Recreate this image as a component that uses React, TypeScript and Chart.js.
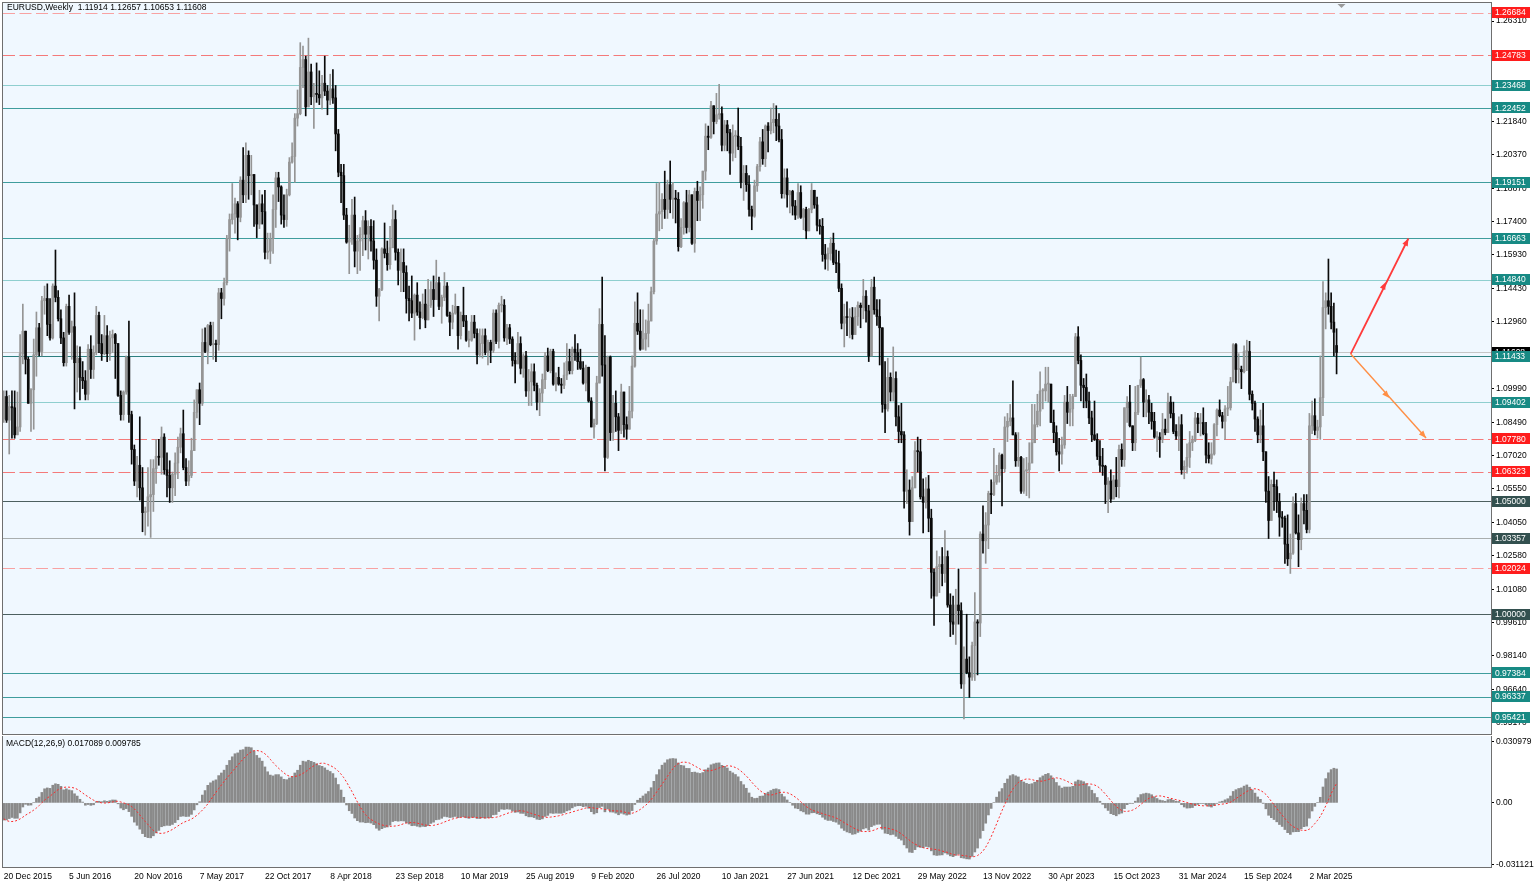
import React, { useEffect, useRef } from "react";
import { Chart, registerables } from "chart.js";

Chart.register(...registerables);

const FONT = "'Liberation Sans', Arial, sans-serif";

const SYMBOL_TEXT = "EURUSD,Weekly  1.11914 1.12657 1.10653 1.11608";
const MACD_TEXT = "MACD(12,26,9) 0.017089 0.009785";
const lastOpen = 1.11914;
const currentPrice = 1.11608;

// weekly closes of 2015 before the first visible bar (used only to warm up the MACD)
const warmupCloses = [
  1.1840, 1.1570, 1.1205, 1.1290, 1.1315, 1.1390, 1.1380, 1.1195, 1.0845, 1.0495, 1.0820, 1.0890, 1.0970,
  1.0600, 1.0805, 1.0875, 1.1200, 1.1200, 1.1445, 1.1015, 1.0985, 1.1110, 1.1265, 1.1350, 1.1165, 1.1105,
  1.1165, 1.0825, 1.0985, 1.0985, 1.0965, 1.1105, 1.1385, 1.1185, 1.1145, 1.1335, 1.1295, 1.1195, 1.1210,
  1.1355, 1.1350, 1.1015, 1.1010, 1.0740, 1.0770, 1.0645, 1.0590, 1.0880, 1.0990, 1.0865,
];

// weekly bars, first week = 20 Dec 2015, last week = 11 May 2025
const closes = [
  // 2015
  1.0965, 1.0860,
  // 2016
  1.0920, 1.0915, 1.0795, 1.0830, 1.1155, 1.1255, 1.1130, 1.0935, 1.0995, 1.1150, 1.1270, 1.1165, 1.1390,
  1.1400, 1.1285, 1.1225, 1.1455, 1.1405, 1.1310, 1.1225, 1.1115, 1.1365, 1.1250, 1.1275, 1.1115, 1.1135,
  1.1050, 1.1035, 1.0975, 1.1175, 1.1085, 1.1160, 1.1325, 1.1200, 1.1155, 1.1235, 1.1155, 1.1225, 1.1240,
  1.1200, 1.0970, 1.0885, 1.0985, 1.1140, 1.0885, 1.0730, 1.0590, 1.0660, 1.0560, 1.0450, 1.0455, 1.0520,
  // 2017
  1.0530, 1.0645, 1.0700, 1.0695, 1.0785, 1.0640, 1.0615, 1.0560, 1.0620, 1.0670, 1.0740, 1.0800, 1.0650,
  1.0590, 1.0615, 1.0725, 1.0895, 1.0995, 1.0935, 1.1205, 1.1165, 1.1280, 1.1195, 1.1200, 1.1195, 1.1425,
  1.1400, 1.1470, 1.1665, 1.1750, 1.1775, 1.1820, 1.1760, 1.1925, 1.1860, 1.2035, 1.1945, 1.1950, 1.1815,
  1.1730, 1.1820, 1.1785, 1.1605, 1.1610, 1.1665, 1.1795, 1.1935, 1.1895, 1.1770, 1.1750, 1.1860, 1.2005, 1.2030,
  // 2018
  1.2200, 1.2220, 1.2425, 1.2460, 1.2250, 1.2405, 1.2295, 1.2310, 1.2305, 1.2290, 1.2355, 1.2320,
  1.2280, 1.2330, 1.2290, 1.2130, 1.1960, 1.1945, 1.1770, 1.1650, 1.1660, 1.1770, 1.1610, 1.1655, 1.1685,
  1.1745, 1.1685, 1.1720, 1.1655, 1.1570, 1.1410, 1.1440, 1.1620, 1.1600, 1.1550, 1.1625, 1.1750, 1.1605, 1.1525,
  1.1560, 1.1515, 1.1400, 1.1390, 1.1335, 1.1415, 1.1340, 1.1315, 1.1375, 1.1305, 1.1370, 1.1440, 1.1395,
  // 2019
  1.1470, 1.1365, 1.1405, 1.1455, 1.1325, 1.1295, 1.1335, 1.1365, 1.1235, 1.1325, 1.1300, 1.1215, 1.1215,
  1.1295, 1.1245, 1.1150, 1.1200, 1.1235, 1.1160, 1.1205, 1.1170, 1.1335, 1.1210, 1.1370, 1.1370, 1.1225,
  1.1270, 1.1220, 1.1125, 1.1110, 1.1200, 1.1090, 1.1145, 1.0990, 1.1030, 1.1075, 1.1015, 1.0940, 1.0980,
  1.1040, 1.1145, 1.1080, 1.1165, 1.1020, 1.1050, 1.1020, 1.1015, 1.1060, 1.1120, 1.1080, 1.1175, 1.1160,
  // 2020
  1.1120, 1.1090, 1.1025, 1.1095, 1.0945, 1.0830, 1.0845, 1.1025, 1.1285, 1.1105, 1.0695, 1.1140, 1.0805,
  1.0935, 1.0875, 1.0815, 1.0985, 1.0840, 1.0820, 1.0900, 1.1100, 1.1290, 1.1255, 1.1175, 1.1220, 1.1245,
  1.1300, 1.1430, 1.1655, 1.1775, 1.1785, 1.1840, 1.1795, 1.1905, 1.1840, 1.1845, 1.1840, 1.1630, 1.1715,
  1.1825, 1.1715, 1.1860, 1.1645, 1.1875, 1.1835, 1.1860, 1.1965, 1.2120, 1.2115, 1.2255, 1.2185, 1.2215,
  // 2021
  1.2220, 1.2080, 1.2170, 1.2135, 1.2045, 1.2120, 1.2120, 1.2075, 1.1915, 1.1955, 1.1905, 1.1795, 1.1765,
  1.1900, 1.1985, 1.2095, 1.2020, 1.2165, 1.2145, 1.2180, 1.2195, 1.2165, 1.2105, 1.1865, 1.1935, 1.1860,
  1.1875, 1.1810, 1.1770, 1.1870, 1.1760, 1.1795, 1.1700, 1.1795, 1.1880, 1.1815, 1.1725, 1.1720, 1.1595,
  1.1575, 1.1600, 1.1645, 1.1560, 1.1555, 1.1445, 1.1290, 1.1320, 1.1315, 1.1315, 1.1240, 1.1320, 1.1370,
  // 2022
  1.1360, 1.1410, 1.1345, 1.1145, 1.1450, 1.1350, 1.1320, 1.1270, 1.0930, 1.0910, 1.1050, 1.0985, 1.1045,
  1.0875, 1.0810, 1.0795, 1.0545, 1.0550, 1.0410, 1.0560, 1.0725, 1.0720, 1.0520, 1.0495, 1.0555, 1.0425,
  1.0185, 1.0080, 1.0210, 1.0220, 1.0180, 1.0255, 1.0040, 0.9965, 0.9955, 1.0040, 1.0015, 0.9690, 0.9800,
  0.9740, 0.9720, 0.9860, 0.9965, 0.9960, 1.0355, 1.0325, 1.0395, 1.0535, 1.0530, 1.0585, 1.0615, 1.0705,
  // 2023
  1.0645, 1.0830, 1.0855, 1.0870, 1.0795, 1.0680, 1.0695, 1.0545, 1.0635, 1.0640, 1.0670, 1.0760, 1.0840,
  1.0900, 1.0990, 1.0990, 1.1020, 1.1020, 1.0850, 1.0805, 1.0720, 1.0710, 1.0750, 1.0940, 1.0895, 1.0910,
  1.0965, 1.1230, 1.1125, 1.1015, 1.1005, 1.0945, 1.0870, 1.0795, 1.0775, 1.0700, 1.0660, 1.0655, 1.0575,
  1.0590, 1.0510, 1.0595, 1.0565, 1.0730, 1.0685, 1.0915, 1.0940, 1.0835, 1.0760, 1.0895, 1.1015, 1.1040, 1.0940,
  // 2024
  1.0950, 1.0895, 1.0855, 1.0785, 1.0785, 1.0775, 1.0820, 1.0805, 1.0940, 1.0890, 1.0810, 1.0790, 1.0840,
  1.0640, 1.0655, 1.0695, 1.0760, 1.0770, 1.0870, 1.0845, 1.0850, 1.0800, 1.0705, 1.0690, 1.0710, 1.0840,
  1.0905, 1.0880, 1.0855, 1.0910, 1.0915, 1.1030, 1.1195, 1.1085, 1.1085, 1.1075, 1.1165, 1.1165, 1.0975,
  1.0935, 1.0865, 1.0795, 1.0835, 1.0720, 1.0545, 1.0415, 1.0575, 1.0565, 1.0500, 1.0430, 1.0425, 1.0310,
  // 2025
  1.0245, 1.0270, 1.0490, 1.0360, 1.0330, 1.0490, 1.0460, 1.0375, 1.0835, 1.0880, 1.0815, 1.0830, 1.0960,
  1.1360, 1.1390, 1.1365, 1.1295, 1.1250, 1.11608,
];

const highs = [
  // 2015
  1.0990, 1.0990,
  // 2016
  1.0970, 1.0990, 1.0990, 1.0985, 1.1240, 1.1375, 1.1250, 1.1140, 1.1000, 1.1220, 1.1340, 1.1290, 1.1410,
  1.1455, 1.1465, 1.1400, 1.1465, 1.1615, 1.1435, 1.1350, 1.1250, 1.1375, 1.1415, 1.1300, 1.1425, 1.1190,
  1.1185, 1.1120, 1.1080, 1.1195, 1.1235, 1.1190, 1.1365, 1.1340, 1.1240, 1.1325, 1.1280, 1.1255, 1.1260,
  1.1245, 1.1145, 1.0990, 1.0990, 1.1145, 1.1300, 1.0900, 1.0750, 1.0700, 1.0875, 1.0650, 1.0475, 1.0650,
  // 2017
  1.0685, 1.0685, 1.0775, 1.0775, 1.0830, 1.0800, 1.0715, 1.0680, 1.0630, 1.0715, 1.0785, 1.0825, 1.0905,
  1.0690, 1.0680, 1.0780, 1.0950, 1.0995, 1.1025, 1.1265, 1.1270, 1.1285, 1.1295, 1.1295, 1.1215, 1.1445,
  1.1445, 1.1490, 1.1680, 1.1775, 1.1910, 1.1845, 1.1830, 1.1940, 1.2070, 1.2090, 1.2055, 1.2035, 1.1935,
  1.1815, 1.1880, 1.1860, 1.1880, 1.1690, 1.1690, 1.1860, 1.1960, 1.1960, 1.1900, 1.1860, 1.1885, 1.2025, 1.2090,
  // 2018
  1.2220, 1.2325, 1.2535, 1.2520, 1.2475, 1.2555, 1.2440, 1.2355, 1.2445, 1.2410, 1.2390, 1.2475,
  1.2345, 1.2395, 1.2415, 1.2345, 1.2150, 1.1995, 1.1995, 1.1800, 1.1725, 1.1840, 1.1850, 1.1680, 1.1715,
  1.1765, 1.1790, 1.1745, 1.1750, 1.1745, 1.1620, 1.1445, 1.1625, 1.1735, 1.1655, 1.1720, 1.1815, 1.1790, 1.1620,
  1.1620, 1.1620, 1.1545, 1.1455, 1.1500, 1.1420, 1.1470, 1.1385, 1.1420, 1.1440, 1.1485, 1.1475, 1.1500,
  // 2019
  1.1570, 1.1495, 1.1415, 1.1515, 1.1470, 1.1340, 1.1370, 1.1420, 1.1355, 1.1340, 1.1450, 1.1325, 1.1255,
  1.1325, 1.1325, 1.1265, 1.1265, 1.1265, 1.1265, 1.1215, 1.1215, 1.1350, 1.1350, 1.1380, 1.1410, 1.1395,
  1.1285, 1.1285, 1.1230, 1.1160, 1.1250, 1.1230, 1.1155, 1.1165, 1.1085, 1.1110, 1.1110, 1.1025, 1.1000,
  1.1065, 1.1160, 1.1180, 1.1175, 1.1175, 1.1070, 1.1095, 1.1045, 1.1115, 1.1200, 1.1175, 1.1185, 1.1240,
  // 2020
  1.1200, 1.1175, 1.1120, 1.1105, 1.1095, 1.0960, 1.0865, 1.1055, 1.1355, 1.1495, 1.1235, 1.1145, 1.1145,
  1.0970, 1.0990, 1.0890, 1.1020, 1.0980, 1.0875, 1.1010, 1.1145, 1.1385, 1.1425, 1.1350, 1.1350, 1.1305,
  1.1375, 1.1450, 1.1665, 1.1910, 1.1915, 1.1865, 1.1965, 1.1925, 1.2010, 1.1915, 1.1880, 1.1870, 1.1755,
  1.1830, 1.1880, 1.1880, 1.1860, 1.1890, 1.1920, 1.1895, 1.1965, 1.2175, 1.2165, 1.2275, 1.2255, 1.2310,
  // 2021
  1.2350, 1.2250, 1.2190, 1.2190, 1.2150, 1.2170, 1.2145, 1.2245, 1.2115, 1.1990, 1.1990, 1.1945, 1.1810,
  1.1925, 1.1995, 1.2115, 1.2150, 1.2170, 1.2180, 1.2245, 1.2265, 1.2255, 1.2220, 1.2150, 1.1975, 1.1975,
  1.1880, 1.1880, 1.1835, 1.1910, 1.1900, 1.1800, 1.1805, 1.1800, 1.1910, 1.1880, 1.1850, 1.1750, 1.1755,
  1.1640, 1.1625, 1.1670, 1.1690, 1.1615, 1.1610, 1.1465, 1.1375, 1.1385, 1.1355, 1.1360, 1.1360, 1.1385,
  // 2022
  1.1380, 1.1485, 1.1435, 1.1370, 1.1485, 1.1495, 1.1395, 1.1395, 1.1240, 1.1120, 1.1135, 1.1070, 1.1185,
  1.1075, 1.0925, 1.0935, 1.0810, 1.0640, 1.0595, 1.0610, 1.0765, 1.0785, 1.0775, 1.0600, 1.0605, 1.0615,
  1.0465, 1.0200, 1.0280, 1.0255, 1.0295, 1.0370, 1.0280, 1.0090, 1.0080, 1.0110, 1.0200, 1.0050, 0.9855,
  0.9999, 0.9810, 0.9875, 1.0095, 0.9975, 1.0365, 1.0480, 1.0450, 1.0545, 1.0595, 1.0735, 1.0660, 1.0715,
  // 2023
  1.0710, 1.0875, 1.0890, 1.0930, 1.1035, 1.0805, 1.0805, 1.0700, 1.0690, 1.0695, 1.0760, 1.0930, 1.0930,
  1.0975, 1.1075, 1.1000, 1.1095, 1.1095, 1.1005, 1.0905, 1.0835, 1.0780, 1.0785, 1.0970, 1.1010, 1.0975,
  1.0975, 1.1245, 1.1275, 1.1150, 1.1045, 1.1065, 1.0985, 1.0900, 1.0945, 1.0800, 1.0770, 1.0735, 1.0660,
  1.0605, 1.0640, 1.0615, 1.0695, 1.0750, 1.0755, 1.0915, 1.0965, 1.1015, 1.0835, 1.1010, 1.1015, 1.1140, 1.1045,
  // 2024
  1.0995, 1.0970, 1.0935, 1.0895, 1.0810, 1.0805, 1.0890, 1.0865, 1.0980, 1.0965, 1.0940, 1.0840, 1.0875,
  1.0885, 1.0680, 1.0755, 1.0810, 1.0790, 1.0895, 1.0890, 1.0890, 1.0915, 1.0850, 1.0760, 1.0760, 1.0845,
  1.0910, 1.0950, 1.0895, 1.0925, 1.1010, 1.1050, 1.1200, 1.1200, 1.1155, 1.1100, 1.1190, 1.1215, 1.1210,
  1.0990, 1.0945, 1.0875, 1.0905, 1.0935, 1.0720, 1.0610, 1.0595, 1.0630, 1.0595, 1.0535, 1.0455, 1.0435,
  // 2025
  1.0440, 1.0355, 1.0520, 1.0535, 1.0440, 1.0515, 1.0530, 1.0530, 1.0890, 1.0945, 1.0955, 1.0860, 1.1145,
  1.1475, 1.1425, 1.1575, 1.1425, 1.1380, 1.12657,
];

const lows = [
  // 2015
  1.0850, 1.0850,
  // 2016
  1.0710, 1.0780, 1.0780, 1.0810, 1.0810, 1.1110, 1.1065, 1.0935, 1.0810, 1.0820, 1.1055, 1.1145, 1.1145,
  1.1330, 1.1235, 1.1215, 1.1220, 1.1385, 1.1300, 1.1200, 1.1100, 1.1100, 1.1240, 1.1130, 1.0910, 1.0985,
  1.0950, 1.1000, 1.0950, 1.0950, 1.1045, 1.1045, 1.1150, 1.1160, 1.1125, 1.1150, 1.1120, 1.1125, 1.1160,
  1.1045, 1.0965, 1.0860, 1.0860, 1.0975, 1.0850, 1.0665, 1.0570, 1.0520, 1.0505, 1.0365, 1.0350, 1.0390,
  // 2017
  1.0340, 1.0455, 1.0580, 1.0660, 1.0620, 1.0620, 1.0520, 1.0495, 1.0495, 1.0525, 1.0600, 1.0715, 1.0640,
  1.0570, 1.0570, 1.0605, 1.0820, 1.0870, 1.0840, 1.0925, 1.1160, 1.1110, 1.1190, 1.1130, 1.1120, 1.1170,
  1.1310, 1.1370, 1.1460, 1.1610, 1.1730, 1.1690, 1.1660, 1.1740, 1.1825, 1.1825, 1.1840, 1.1860, 1.1720,
  1.1670, 1.1710, 1.1730, 1.1575, 1.1575, 1.1555, 1.1600, 1.1715, 1.1830, 1.1730, 1.1715, 1.1720, 1.1855, 1.2000,
  // 2018
  1.1915, 1.2165, 1.2215, 1.2335, 1.2210, 1.2255, 1.2260, 1.2155, 1.2270, 1.2260, 1.2240, 1.2300,
  1.2215, 1.2260, 1.2265, 1.2055, 1.1940, 1.1825, 1.1750, 1.1645, 1.1510, 1.1640, 1.1540, 1.1510, 1.1525,
  1.1590, 1.1615, 1.1575, 1.1610, 1.1530, 1.1365, 1.1300, 1.1435, 1.1580, 1.1525, 1.1530, 1.1625, 1.1570, 1.1460,
  1.1430, 1.1430, 1.1335, 1.1300, 1.1315, 1.1215, 1.1325, 1.1265, 1.1310, 1.1270, 1.1305, 1.1360, 1.1320,
  // 2019
  1.1400, 1.1350, 1.1290, 1.1390, 1.1320, 1.1235, 1.1265, 1.1330, 1.1175, 1.1220, 1.1275, 1.1210, 1.1185,
  1.1210, 1.1225, 1.1110, 1.1140, 1.1135, 1.1150, 1.1105, 1.1115, 1.1160, 1.1200, 1.1180, 1.1340, 1.1210,
  1.1195, 1.1200, 1.1100, 1.1025, 1.1110, 1.1065, 1.1050, 1.0965, 1.0925, 1.0925, 1.0990, 1.0905, 1.0880,
  1.0940, 1.1000, 1.1075, 1.1070, 1.1015, 1.0990, 1.1015, 1.0980, 1.1000, 1.1040, 1.1065, 1.1065, 1.1125,
  // 2020
  1.1085, 1.1085, 1.1020, 1.0990, 1.0940, 1.0830, 1.0780, 1.0840, 1.1050, 1.1055, 1.0635, 1.0690, 1.0770,
  1.0770, 1.0810, 1.0725, 1.0800, 1.0785, 1.0775, 1.0870, 1.0870, 1.1095, 1.1240, 1.1170, 1.1185, 1.1170,
  1.1185, 1.1300, 1.1420, 1.1640, 1.1700, 1.1710, 1.1755, 1.1755, 1.1780, 1.1755, 1.1735, 1.1610, 1.1625,
  1.1685, 1.1690, 1.1695, 1.1640, 1.1605, 1.1745, 1.1745, 1.1800, 1.1925, 1.2060, 1.2110, 1.2130, 1.2175,
  // 2021
  1.2195, 1.2055, 1.2055, 1.2055, 1.1950, 1.2010, 1.2025, 1.2060, 1.1890, 1.1835, 1.1875, 1.1765, 1.1705,
  1.1760, 1.1875, 1.1965, 1.1995, 1.1985, 1.2050, 1.2130, 1.2135, 1.2100, 1.2095, 1.1845, 1.1845, 1.1805,
  1.1780, 1.1770, 1.1750, 1.1755, 1.1755, 1.1705, 1.1665, 1.1700, 1.1780, 1.1800, 1.1700, 1.1685, 1.1565,
  1.1530, 1.1525, 1.1570, 1.1550, 1.1515, 1.1430, 1.1265, 1.1185, 1.1235, 1.1225, 1.1220, 1.1260, 1.1280,
  // 2022
  1.1270, 1.1310, 1.1295, 1.1120, 1.1145, 1.1330, 1.1280, 1.1105, 1.0895, 1.0805, 1.0900, 1.0945, 1.0945,
  1.0835, 1.0760, 1.0760, 1.0470, 1.0490, 1.0350, 1.0460, 1.0560, 1.0630, 1.0510, 1.0360, 1.0470, 1.0365,
  1.0070, 0.9950, 1.0080, 1.0095, 1.0125, 1.0140, 1.0030, 0.9900, 0.9910, 0.9865, 0.9955, 0.9670, 0.9535,
  0.9735, 0.9630, 0.9705, 0.9705, 0.9730, 0.9900, 1.0270, 1.0225, 1.0290, 1.0445, 1.0525, 1.0575, 1.0585,
  // 2023
  1.0480, 1.0630, 1.0765, 1.0835, 1.0795, 1.0655, 1.0655, 1.0535, 1.0535, 1.0525, 1.0515, 1.0715, 1.0765,
  1.0830, 1.0835, 1.0910, 1.0945, 1.0940, 1.0850, 1.0760, 1.0705, 1.0635, 1.0665, 1.0735, 1.0845, 1.0835,
  1.0835, 1.0965, 1.1110, 1.0945, 1.0915, 1.0915, 1.0845, 1.0765, 1.0770, 1.0685, 1.0630, 1.0615, 1.0490,
  1.0450, 1.0495, 1.0525, 1.0520, 1.0515, 1.0655, 1.0655, 1.0850, 1.0830, 1.0725, 1.0725, 1.0885, 1.1005, 1.0875,
  // 2024
  1.0875, 1.0845, 1.0820, 1.0780, 1.0720, 1.0695, 1.0760, 1.0795, 1.0825, 1.0870, 1.0800, 1.0775, 1.0725,
  1.0620, 1.0600, 1.0625, 1.0650, 1.0725, 1.0765, 1.0805, 1.0790, 1.0795, 1.0670, 1.0670, 1.0665, 1.0705,
  1.0790, 1.0875, 1.0825, 1.0775, 1.0880, 1.0905, 1.1030, 1.1025, 1.1025, 1.1000, 1.1070, 1.1080, 1.0950,
  1.0905, 1.0810, 1.0760, 1.0760, 1.0680, 1.0495, 1.0335, 1.0420, 1.0460, 1.0450, 1.0345, 1.0385, 1.0225,
  // 2025
  1.0215, 1.0180, 1.0265, 1.0355, 1.0210, 1.0285, 1.0400, 1.0360, 1.0360, 1.0800, 1.0795, 1.0780, 1.0775,
  1.0880, 1.1265, 1.1330, 1.1265, 1.1145, 1.10653,
];

// price axis labels (right side)
const priceTicks = [
  1.2631, 1.2481, 1.2334, 1.2184, 1.2037, 1.1887, 1.174, 1.1593, 1.1443, 1.1296, 1.1146,
  1.0999, 1.0849, 1.0702, 1.0555, 1.0405, 1.0258, 1.0108, 0.9961, 0.9814, 0.9664, 0.9517,
];

// MACD axis labels
const macdTicks = [0.030979, 0, -0.031121];
const macdTickLabels = ["0.030979", "0.00", "-0.031121"];

// time axis labels (bar index from 20 Dec 2015, every 24 weeks)
const timeTickIndex = [0, 24, 48, 72, 96, 120, 144, 168, 192, 216, 240, 264, 288, 312, 336, 360, 384, 408, 432, 456, 480];
const timeTickLabels = [
  "20 Dec 2015", "5 Jun 2016", "20 Nov 2016", "7 May 2017", "22 Oct 2017", "8 Apr 2018", "23 Sep 2018",
  "10 Mar 2019", "25 Aug 2019", "9 Feb 2020", "26 Jul 2020", "10 Jan 2021", "27 Jun 2021", "12 Dec 2021",
  "29 May 2022", "13 Nov 2022", "30 Apr 2023", "15 Oct 2023", "31 Mar 2024", "15 Sep 2024", "2 Mar 2025",
];

// horizontal levels
const levelPrices = [
  1.26684, 1.24783, 1.23468, 1.22452, 1.19151, 1.16663, 1.1484, 1.11433, 1.09402,
  1.0778, 1.06323, 1.05, 1.03357, 1.02024, 1.0, 0.97384, 0.96337, 0.95421,
];
const levelKinds = [
  "redLight", "red", "tealLight", "teal", "teal", "teal", "tealLight", "tealDark", "tealLight",
  "red", "red", "slate", "grey", "redLight", "slate", "teal", "teal", "teal",
];

// arrow annotations: [bar index, price]
const upArrow = [[495.2, 1.1154], [508.1, 1.1473], [516.4, 1.1666]];
const downArrow = [[495.2, 1.1154], [509.4, 1.0958], [522.9, 1.0781]];

const X_MIN = -0.29;
const X_MAX = 546.77;

const lineColor: Record<string, string> = {
  red: "#f47a7a",
  redLight: "#f8a2a2",
  teal: "#3f9d9d",
  tealLight: "#8fcfcf",
  tealDark: "#2d7f7f",
  slate: "#4d6060",
  grey: "#a9aeae",
};
const boxColor: Record<string, string> = {
  red: "#ff1c1c",
  redLight: "#ff1c1c",
  teal: "#178a84",
  tealLight: "#178a84",
  tealDark: "#178a84",
  slate: "#33504f",
  grey: "#33504f",
};

function emaSeries(values: number[], period: number) {
  const k = 2 / (period + 1);
  const out: number[] = [];
  let e = values[0];
  values.forEach((v, i) => {
    e = i === 0 ? v : v * k + e * (1 - k);
    out.push(e);
  });
  return out;
}

function drawHead(ctx: CanvasRenderingContext2D, x1: number, y1: number, x2: number, y2: number, size: number) {
  const a = Math.atan2(y2 - y1, x2 - x1);
  ctx.beginPath();
  ctx.moveTo(x2, y2);
  ctx.lineTo(x2 - size * Math.cos(a - 0.38), y2 - size * Math.sin(a - 0.38));
  ctx.lineTo(x2 - size * Math.cos(a + 0.38), y2 - size * Math.sin(a + 0.38));
  ctx.closePath();
  ctx.fill();
}

const noPad = (s: any) => {
  s.paddingTop = 0;
  s.paddingBottom = 0;
  s.paddingLeft = 0;
  s.paddingRight = 0;
};

export default function App() {
  const mainRef = useRef<HTMLCanvasElement>(null);
  const macdRef = useRef<HTMLCanvasElement>(null);

  useEffect(() => {
    const n = Math.min(closes.length, highs.length, lows.length);
    const opens: number[] = [];
    for (let i = 0; i < n; i++) {
      opens.push(i === 0 ? warmupCloses[warmupCloses.length - 1] : closes[i - 1]);
    }
    opens[n - 1] = lastOpen;
    const up = closes.slice(0, n).map((c, i) => c >= opens[i]);
    const bodies = closes.slice(0, n).map((c, i) => ({ x: i, y: [opens[i], c] }));
    const wicks = closes.slice(0, n).map((c, i) => ({
      x: i,
      y: [Math.min(lows[i], opens[i], c), Math.max(highs[i], opens[i], c)],
    }));
    const candleColors = up.map((u) => (u ? "#959595" : "#0a0a0a"));

    // MACD (12,26,9): main = EMA12 - EMA26 of close, signal = SMA9 of main
    const all = [...warmupCloses, ...closes.slice(0, n)];
    const e12 = emaSeries(all, 12);
    const e26 = emaSeries(all, 26);
    const mainAll = e12.map((v, i) => v - e26[i]);
    const sigAll = mainAll.map((_, i) => {
      const s = mainAll.slice(Math.max(0, i - 8), i + 1);
      return s.reduce((a, b) => a + b, 0) / s.length;
    });
    const off = warmupCloses.length;
    const macdMain = mainAll.slice(off).map((v, i) => ({ x: i, y: v }));
    const macdSignal = sigAll.slice(off).map((v, i) => ({ x: i, y: v }));

    const tickFont = { family: FONT, size: 8.5 };

    const bgPlugin = {
      id: "bg",
      beforeDraw(chart: any) {
        const { ctx, chartArea: a } = chart;
        ctx.save();
        ctx.fillStyle = "#ffffff";
        ctx.fillRect(0, 0, chart.width, chart.height);
        ctx.fillStyle = "#f0f8ff";
        ctx.fillRect(a.left, a.top, a.right - a.left, a.bottom - a.top);
        ctx.restore();
      },
    };

    // horizontal level lines, placed through the price scale and snapped to whole pixels
    const levelsPlugin = {
      id: "levels",
      beforeDatasetsDraw(chart: any) {
        const { ctx, chartArea: a } = chart;
        const ys = chart.scales.y;
        ctx.save();
        ctx.lineWidth = 1;
        const hline = (price: number, color: string, dash: number[]) => {
          const y = Math.round(ys.getPixelForValue(price)) + 0.5;
          ctx.strokeStyle = color;
          ctx.setLineDash(dash);
          ctx.beginPath();
          ctx.moveTo(a.left, y);
          ctx.lineTo(a.right, y);
          ctx.stroke();
        };
        hline(currentPrice, "#c6c6c6", []);
        levelPrices.forEach((p, i) => {
          const kind = levelKinds[i];
          hline(p, lineColor[kind], kind === "red" || kind === "redLight" ? [12, 4.5] : []);
        });
        ctx.restore();
      },
    };

    const framePlugin = {
      id: "frame",
      afterDraw(chart: any) {
        const { ctx, chartArea: a } = chart;
        ctx.save();
        ctx.strokeStyle = "#6f6f6f";
        ctx.lineWidth = 1;
        ctx.strokeRect(Math.round(a.left) - 0.5, Math.round(a.top) - 0.5, Math.round(a.right - a.left) + 1, Math.round(a.bottom - a.top));
        ctx.restore();
      },
    };

    const overlayPlugin = {
      id: "overlay",
      afterDatasetsDraw(chart: any) {
        const { ctx } = chart;
        const xs = chart.scales.x;
        const ys = chart.scales.y;
        const drawArrow = (pts: number[][], color: string, width: number) => {
          const p = pts.map(([ix, pr]) => [xs.getPixelForValue(ix), ys.getPixelForValue(pr)]);
          ctx.save();
          ctx.strokeStyle = color;
          ctx.fillStyle = color;
          ctx.lineWidth = width;
          ctx.beginPath();
          ctx.moveTo(p[0][0], p[0][1]);
          ctx.lineTo(p[2][0], p[2][1]);
          ctx.stroke();
          drawHead(ctx, p[0][0], p[0][1], p[1][0], p[1][1], 8);
          drawHead(ctx, p[0][0], p[0][1], p[2][0], p[2][1], 8);
          ctx.restore();
        };
        drawArrow(upArrow, "#ff3b3b", 1.8);
        drawArrow(downArrow, "#ff8f45", 1.4);
      },
      afterDraw(chart: any) {
        const { ctx, chartArea: a } = chart;
        const ys = chart.scales.y;
        const xs = chart.scales.x;
        ctx.save();
        ctx.font = `8.5px ${FONT}`;
        ctx.textBaseline = "middle";
        ctx.textAlign = "left";
        const box = (price: number, bg: string) => {
          const y = ys.getPixelForValue(price);
          ctx.fillStyle = bg;
          ctx.fillRect(a.right + 1, Math.round(y - 5.5), 38, 11);
          ctx.fillStyle = "#ffffff";
          ctx.fillText(price.toFixed(5), a.right + 4, y + 0.5);
        };
        box(currentPrice, "#000000");
        levelPrices.forEach((p, i) => box(p, boxColor[levelKinds[i]]));
        // symbol caption
        ctx.fillStyle = "#000000";
        ctx.fillText(SYMBOL_TEXT, a.left + 4, a.top + 5);
        // shift marker
        const sx = xs.getPixelForValue(n + 0.8);
        ctx.fillStyle = "#9a9a9a";
        ctx.beginPath();
        ctx.moveTo(sx - 4, a.top + 1);
        ctx.lineTo(sx + 4, a.top + 1);
        ctx.lineTo(sx, a.top + 5);
        ctx.closePath();
        ctx.fill();
        ctx.restore();
      },
    };

    const mainChart = new Chart(mainRef.current as HTMLCanvasElement, {
      type: "bar",
      data: {
        datasets: [
          {
            type: "bar",
            data: wicks,
            backgroundColor: candleColors,
            borderWidth: 0,
            barThickness: 1,
            grouped: false,
            order: 2,
          },
          {
            type: "bar",
            data: bodies,
            backgroundColor: candleColors,
            borderWidth: 0,
            barThickness: 2,
            minBarLength: 1,
            grouped: false,
            order: 1,
          },
        ] as any,
      },
      options: {
        responsive: false,
        animation: false,
        devicePixelRatio: 1,
        events: [],
        layout: { padding: { left: 3, top: 3, right: 0, bottom: 1 } },
        plugins: { legend: { display: false }, tooltip: { enabled: false } },
        scales: {
          x: { type: "linear", min: X_MIN, max: X_MAX, display: false, offset: false },
          y: {
            type: "linear",
            position: "right",
            min: 0.94633,
            max: 1.27109,
            afterBuildTicks: (s: any) => {
              s.ticks = priceTicks.map((v) => ({ value: v }));
            },
            afterFit: (s: any) => {
              s.width = 45;
              noPad(s);
            },
            ticks: {
              callback: (v: any) => Number(v).toFixed(5),
              font: tickFont,
              color: "#000000",
              padding: 2,
              autoSkip: false,
            },
            grid: { drawOnChartArea: false, tickLength: 3, color: "#000000" },
            border: { display: false },
          },
        },
      } as any,
      plugins: [bgPlugin, levelsPlugin, overlayPlugin, framePlugin],
    });

    const macdTextPlugin = {
      id: "macdText",
      afterDraw(chart: any) {
        const { ctx, chartArea: a } = chart;
        ctx.save();
        ctx.font = `8.5px ${FONT}`;
        ctx.textBaseline = "middle";
        ctx.textAlign = "left";
        ctx.fillStyle = "#000000";
        ctx.fillText(MACD_TEXT, a.left + 3, a.top + 8);
        ctx.restore();
      },
    };

    const macdChart = new Chart(macdRef.current as HTMLCanvasElement, {
      type: "bar",
      data: {
        datasets: [
          {
            type: "line",
            data: macdSignal,
            borderColor: "#ff2a2a",
            borderWidth: 1,
            borderDash: [2, 2],
            pointRadius: 0,
            order: 1,
          },
          {
            type: "bar",
            data: macdMain,
            backgroundColor: "#8a8a8a",
            borderWidth: 0,
            barThickness: 2,
            grouped: false,
            order: 2,
          },
        ] as any,
      },
      options: {
        responsive: false,
        animation: false,
        devicePixelRatio: 1,
        events: [],
        layout: { padding: { left: 3, top: 0, right: 0, bottom: 0 } },
        plugins: { legend: { display: false }, tooltip: { enabled: false } },
        scales: {
          x: {
            type: "linear",
            min: X_MIN,
            max: X_MAX,
            offset: false,
            afterBuildTicks: (s: any) => {
              s.ticks = timeTickIndex.map((v) => ({ value: v }));
            },
            afterFit: (s: any) => {
              s.height = 17;
              noPad(s);
            },
            ticks: {
              callback: (_v: any, i: number) => timeTickLabels[i],
              align: "start",
              maxRotation: 0,
              autoSkip: false,
              padding: 4,
              font: tickFont,
              color: "#000000",
            },
            grid: { display: false, drawTicks: false },
            border: { display: false },
          },
          y: {
            type: "linear",
            position: "right",
            min: -0.0328,
            max: 0.0337,
            afterBuildTicks: (s: any) => {
              s.ticks = macdTicks.map((v) => ({ value: v }));
            },
            afterFit: (s: any) => {
              s.width = 45;
              noPad(s);
            },
            ticks: {
              callback: (_v: any, i: number) => macdTickLabels[i],
              font: tickFont,
              color: "#000000",
              padding: 2,
              autoSkip: false,
            },
            grid: { drawOnChartArea: false, tickLength: 3, color: "#000000" },
            border: { display: false },
          },
        },
      } as any,
      plugins: [bgPlugin, macdTextPlugin, framePlugin],
    });

    return () => {
      mainChart.destroy();
      macdChart.destroy();
    };
  }, []);

  return (
    <div style={{ position: "fixed", left: 0, top: 0, width: 1536, height: 885, background: "#ffffff" }}>
      <canvas ref={mainRef} width={1536} height={736} style={{ position: "absolute", left: 0, top: 0 }} />
      <canvas ref={macdRef} width={1536} height={149} style={{ position: "absolute", left: 0, top: 736 }} />
    </div>
  );
}
